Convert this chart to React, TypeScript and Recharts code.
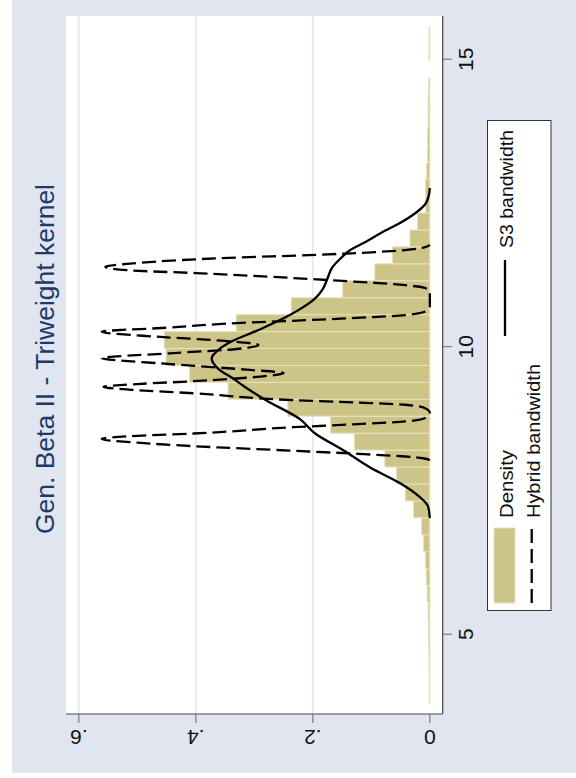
import React from "react";
import { CartesianGrid, ComposedChart, Line, ReferenceArea, XAxis, YAxis } from "recharts";

const title = "Gen. Beta II - Triweight kernel";
const legendLabels = ["Density", "S3 bandwidth", "Hybrid bandwidth"];

// histogram: 40 bins
const binEdges = [
  3.784, 4.079, 4.373, 4.668, 4.962, 5.257, 5.551, 5.846, 6.14, 6.435, 6.729, 7.024, 7.318, 7.613,
  7.907, 8.202, 8.496, 8.791, 9.085, 9.38, 9.674, 9.969, 10.263, 10.558, 10.852, 11.147, 11.441,
  11.736, 12.03, 12.325, 12.619, 12.914, 13.208, 13.503, 13.797, 14.092, 14.386, 14.681, 14.975,
  15.27, 15.564,
]
const density = [
  0.001, 0.001, 0.0015, 0.002, 0.0025, 0.003, 0.0045, 0.006, 0.0075, 0.011, 0.014, 0.028, 0.042,
  0.057, 0.077, 0.129, 0.17, 0.243, 0.345, 0.411, 0.451, 0.454, 0.331, 0.237, 0.149, 0.094, 0.064,
  0.034, 0.021, 0.0075, 0.0075, 0.0055, 0.004, 0.004, 0.003, 0.003, 0.002, 0, 0.0015, 0.0015,
]

// kernel density, S3 bandwidth
const s3Curve: [number, number][] = [
  [7.02, 0], [7.22, 0.003], [7.45, 0.025], [7.62, 0.05], [7.9, 0.102], [8.2, 0.148], [8.49, 0.196],
  [8.74, 0.222], [9.07, 0.28], [9.3, 0.316], [9.45, 0.337], [9.62, 0.362], [9.8, 0.373],
  [9.94, 0.362], [10.06, 0.345], [10.29, 0.293], [10.52, 0.245], [10.64, 0.224], [10.84, 0.196],
  [11.0, 0.183], [11.16, 0.176], [11.39, 0.166], [11.52, 0.154], [11.68, 0.136], [11.82, 0.11],
  [11.97, 0.085], [12.15, 0.051], [12.32, 0.025], [12.49, 0.007], [12.62, 0.002], [12.76, 0],
]

// kernel density, hybrid bandwidth
const hybridCurve: [number, number][] = [
  [8.03, 0], [8.06, 0.012], [8.09, 0.042], [8.14, 0.13], [8.19, 0.233], [8.27, 0.404], [8.33, 0.5],
  [8.395, 0.561], [8.45, 0.5], [8.49, 0.404], [8.6, 0.233], [8.65, 0.13], [8.7, 0.042],
  [8.76, 0.008], [8.85, 0], [8.93, 0.008], [8.99, 0.042], [9.03, 0.13], [9.07, 0.233],
  [9.19, 0.404], [9.25, 0.51], [9.3, 0.558], [9.35, 0.5], [9.4, 0.404], [9.48, 0.29], [9.54, 0.25],
  [9.6, 0.313], [9.71, 0.461], [9.8, 0.561], [9.885, 0.444], [9.96, 0.33], [10.03, 0.293],
  [10.1, 0.35], [10.17, 0.461], [10.26, 0.561], [10.33, 0.45], [10.41, 0.33], [10.48, 0.167],
  [10.55, 0.042], [10.61, 0.008], [10.7, 0], [10.95, 0], [11.02, 0.008], [11.07, 0.042],
  [11.16, 0.176], [11.28, 0.4], [11.33, 0.518], [11.39, 0.555], [11.44, 0.518], [11.52, 0.4],
  [11.62, 0.142], [11.68, 0.042], [11.73, 0.008], [11.77, 0],
]

const xTicks = [5, 10, 15]
const yTicks = [0, 0.2, 0.4, 0.6]
const yTickLabels = ["0", ".2", ".4", ".6"]
const gridValues = [0.2, 0.4, 0.6]

const FONT = "'Liberation Sans', Arial, Helvetica, sans-serif"
const BG = "#e0e5ef"
const KHAKI = "#cdc587"
const KHAKI_EDGE = "#e6e2c2"
const DASH = "14 6"

const bins = density.map((d, i) => ({ x1: binEdges[i], x2: binEdges[i + 1], d }))
const s3Data = s3Curve.map(([x, y]) => ({ x, y }))
const hybridData = hybridCurve.map(([x, y]) => ({ x, y }))

const XTick = (props: any) => {
  const { x, y, payload } = props
  return (
    <text x={x} y={y} dy={15.5} textAnchor="middle" fontSize={21} fontFamily={FONT} fill="#111">
      {payload.value}
    </text>
  )
}

const YTick = (props: any) => {
  const { x, y, payload } = props
  const label = yTickLabels[yTicks.indexOf(payload.value)] ?? String(payload.value)
  return (
    <text
      x={x}
      y={y}
      transform={`rotate(-90 ${x} ${y})`}
      textAnchor="middle"
      fontSize={21}
      fontFamily={FONT}
      fill="#111"
    >
      {label}
    </text>
  )
}

function Chart() {
  return (
    <div style={{ position: "relative", width: 778, height: 576, background: "#fff" }}>
      <div style={{ position: "absolute", left: 5, top: 12, right: 0, bottom: 0, background: BG }} />
      <div style={{ position: "absolute", left: 0, top: 0 }}>
        <ComposedChart width={778} height={576} margin={{ top: 66, right: 16, bottom: 0, left: 0 }}>
          <CartesianGrid
            fill="#ffffff"
            vertical={false}
            horizontalValues={gridValues}
            stroke="#d8deea"
            strokeWidth={1.2}
          />
          <XAxis
            type="number"
            dataKey="x"
            domain={[3.612, 15.751]}
            allowDataOverflow
            ticks={xTicks}
            interval={0}
            height={133.3}
            tickSize={9}
            tickMargin={6}
            tickLine={{ stroke: "#666" }}
            axisLine={{ stroke: "#444", strokeWidth: 1.2 }}
            tick={XTick}
          />
          <YAxis
            type="number"
            domain={[-0.022, 0.622]}
            allowDataOverflow
            ticks={yTicks}
            interval={0}
            width={64}
            tickSize={9}
            tickMargin={7}
            tickLine={{ stroke: "#666" }}
            axisLine={{ stroke: "#444", strokeWidth: 1.2 }}
            tick={YTick}
          />
          {bins.map((b, i) => (
            <ReferenceArea
              key={i}
              x1={b.x1}
              x2={b.x2}
              y1={0}
              y2={b.d}
              fill={KHAKI}
              fillOpacity={1}
              stroke={KHAKI_EDGE}
              strokeWidth={1}
              ifOverflow="visible"
            />
          ))}
          <Line
            data={s3Data}
            dataKey="y"
            type="monotone"
            stroke="#000"
            strokeWidth={2.3}
            dot={false}
            activeDot={false}
            isAnimationActive={false}
          />
          <Line
            data={hybridData}
            dataKey="y"
            type="monotone"
            stroke="#000"
            strokeWidth={2.3}
            strokeDasharray={DASH}
            dot={false}
            activeDot={false}
            isAnimationActive={false}
          />
        </ComposedChart>
      </div>
      <svg width={778} height={576} style={{ position: "absolute", left: 0, top: 0, pointerEvents: "none" }}>
        <text
          x={419}
          y={54}
          textAnchor="middle"
          fontSize={25}
          fontFamily={FONT}
          fill="#1c3a6a"
          textLength={350}
          lengthAdjust="spacingAndGlyphs"
        >
          {title}
        </text>
        <rect x={167.5} y={487.5} width={490} height={63.5} fill="#fff" stroke="#333" strokeWidth={1} />
        <rect x={175} y={494} width={75} height={21} fill={KHAKI} stroke={KHAKI_EDGE} strokeWidth={1} />
        <text x={260} y={512.5} fontSize={19} fontFamily={FONT} fill="#111" textLength={68} lengthAdjust="spacingAndGlyphs">
          {legendLabels[0]}
        </text>
        <line x1={442} x2={518} y1={505} y2={505} stroke="#000" strokeWidth={2.3} />
        <text x={530} y={512.5} fontSize={19} fontFamily={FONT} fill="#111" textLength={118} lengthAdjust="spacingAndGlyphs">
          {legendLabels[1]}
        </text>
        <line x1={175} x2={250} y1={531.7} y2={531.7} stroke="#000" strokeWidth={2.3} strokeDasharray={DASH} />
        <text x={260} y={539.5} fontSize={19} fontFamily={FONT} fill="#111" textLength={154} lengthAdjust="spacingAndGlyphs">
          {legendLabels[2]}
        </text>
      </svg>
    </div>
  )
}

export default function App() {
  return (
    <div style={{ position: "absolute", left: 0, top: 0, width: 576, height: 778, overflow: "hidden", background: "#fff" }}>
      <div
        style={{
          position: "absolute",
          left: 0,
          top: 0,
          width: 778,
          height: 576,
          transformOrigin: "0 0",
          transform: "translateY(778px) rotate(-90deg)",
        }}
      >
        <Chart />
      </div>
    </div>
  )
}
